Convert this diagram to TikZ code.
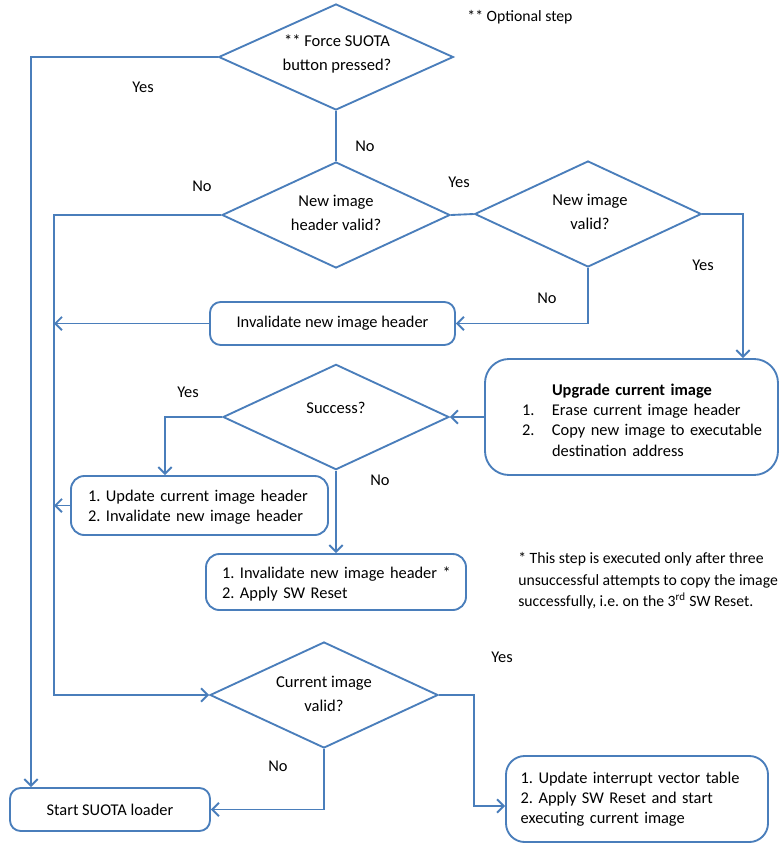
\documentclass[tikz,border=0pt]{standalone}
\usepackage{fontspec}
\setmainfont{Carlito}
\usetikzlibrary{arrows.meta,shapes.geometric,calc}
\definecolor{fc}{HTML}{4A7EBB}
\begin{document}
\frenchspacing
\begin{tikzpicture}[x=0.75pt,y=-0.75pt,
  line/.style={draw=fc,line width=1.4pt},
  arr/.style={line,-{Straight Barb[length=5pt,width=10pt,line width=1.4pt]}},
  dia/.style={diamond,draw=fc,line width=1.4pt,inner sep=0pt},
  dtext/.style={font=\fontsize{12.4}{18}\selectfont,align=center,inner sep=0pt},
  box/.style={rectangle,rounded corners=8pt,draw=fc,line width=1.4pt,font=\fontsize{12.3}{15.2}\selectfont},
  lbl/.style={font=\fontsize{12.3}{14}\selectfont,inner sep=0pt},
  note/.style={font=\fontsize{11.8}{16}\selectfont,align=left,inner sep=0pt}]
\useasboundingbox (0,0) rectangle (781,853);

% coordinates for vertical rails
\coordinate (xa) at (31,0);
\coordinate (xb) at (54,0);
\coordinate (xc) at (743,0);
\coordinate (xd) at (474,0);
\coordinate (xe) at (165,0);
\coordinate (yf) at (0,806);

% decisions
\node[dia,minimum width=176pt,minimum height=79.5pt] (d1) at (336,57) {};
\node[dia,minimum width=171pt,minimum height=79.5pt] (d2) at (336,215) {};
\node[dia,minimum width=170pt,minimum height=79.5pt] (d3) at (588,214) {};
\node[dia,minimum width=169.5pt,minimum height=79pt] (d4) at (336,417) {};
\node[dia,minimum width=171pt,minimum height=79.5pt] (d5) at (324,695) {};

\node[dtext] (d1t) at (337,54) {** Force SUOTA\\button pressed?};
\node[dtext] (d2t) at (336,213) {New image\\header valid?};
\node[dtext] (d3t) at (590,212) {New image\\valid?};
\node[dtext] (d4t) at (336,408) {Success?};
\node[dtext] (d5t) at (324,694) {Current image\\valid?};

% process boxes
\node[box,minimum width=183.75pt,minimum height=32.25pt] (inv) at (332.5,323.5) {Invalidate new image header};
\node[box,rounded corners=18pt,minimum height=87pt,inner xsep=27.75pt,text width=164.25pt,align=left] (upg) at (631.5,417)
  {\raisebox{-3.5pt}[\height][\depth]{\renewcommand\arraystretch{1.0}\begin{tabular}{@{}p{22.5pt}@{}l@{}}
   & \textbf{Upgrade current image}\\
   1. & Erase current image header\\
   2. & Copy new image to executable\\
      & destination address
   \end{tabular}}};
\node[box,rounded corners=10pt,minimum height=44.25pt,inner xsep=12.75pt,text width=167.25pt,align=left] (upd) at (199.5,505.5)
  {\raisebox{-1.5pt}[\height][\depth]{1. Update current image header}\\\raisebox{-1.5pt}[\height][\depth]{2. Invalidate new image header}};
\node[box,rounded corners=10pt,minimum height=42pt,inner xsep=12pt,text width=171pt,align=left] (rst) at (336,582)
  {\raisebox{-1.5pt}[\height][\depth]{1. Invalidate new image header *}\\\raisebox{-1.5pt}[\height][\depth]{2. Apply SW Reset}};
\node[box,minimum width=150pt,minimum height=32.25pt] (start) at (110,809.5) {Start SUOTA loader};
\node[box,rounded corners=14pt,minimum height=64.5pt,inner xsep=11pt,text width=174.5pt,align=left] (fin) at (637,799)
  {1. Update interrupt vector table\\2. Apply SW Reset and start\\executing current image};

% labels
\node[lbl] (l1) at (143,87) {Yes};
\node[lbl] (l2) at (365,146) {No};
\node[lbl] (l3) at (202,186) {No};
\node[lbl] (l4) at (459,182) {Yes};
\node[lbl] (l5) at (703,265) {Yes};
\node[lbl] (l6) at (547,298) {No};
\node[lbl] (l7) at (188,392) {Yes};
\node[lbl] (l8) at (380,480) {No};
\node[lbl] (l9) at (502,657) {Yes};
\node[lbl] (l10) at (278,766) {No};

\node[note] (opt) at (520,17) {** Optional step};
\node[note,anchor=west] (nt) at (518,581) {* This step is executed only after three\\unsuccessful attempts to copy the image\\successfully, i.e. on the 3\textsuperscript{rd} SW Reset.};

% connectors
\draw[arr] (d1.west) -| (xa |- start.north);
\draw[line] (d1.south) -- (d2.north);
\draw[line] (d2.east) -- (d3.west);
\draw[arr] (d2.west) -| (xb |- d5.west) -- (d5.west);
\draw[arr] (d3.east) -| (xc |- upg.north);
\draw[arr] (d3.south) |- (inv.east);
\draw[arr] (inv.west) -- (inv.west -| xb);
\draw[arr] (upg.west) -- (d4.east);
\draw[arr] (d4.west) -| (xe |- upd.north);
\draw[arr] (d4.south) -- (rst.north);
\draw[arr] (upd.west) -- (upd.west -| xb);
\draw[arr] (d5.south) |- (start.east);
\draw[arr] (d5.east) -| (xd |- yf) -- (yf -| fin.west);
\end{tikzpicture}
\end{document}
